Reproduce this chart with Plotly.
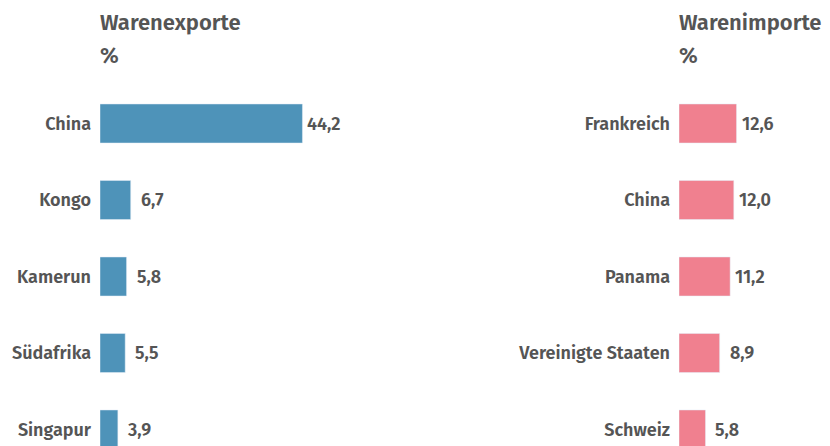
import plotly.graph_objects as go

export_countries = ["China", "Kongo", "Kamerun", "Südafrika", "Singapur"]
export_values = [44.2, 6.7, 5.8, 5.5, 3.9]
import_countries = ["Frankreich", "China", "Panama", "Vereinigte Staaten", "Schweiz"]
import_values = [12.6, 12.0, 11.2, 8.9, 5.8]
export_title = "Warenexporte"
import_title = "Warenimporte"
unit_label = "%"

W, H = 830, 446
OFF = 8  # page body margin
BLUE = "#4e93b9"
PINK = "#f0808f"
TXT = "#555555"
FONT = "Fira Sans, Open Sans, sans-serif"

def fmt(v):
    return f"{v:.1f}".replace(".", ",")

pos = list(range(5))

fig = go.Figure()
fig.add_trace(go.Bar(x=export_values, y=pos, orientation="h", marker_color=BLUE,
                     width=0.51, xaxis="x", yaxis="y", hoverinfo="skip"))
fig.add_trace(go.Bar(x=import_values, y=pos, orientation="h", marker_color=PINK,
                     width=0.51, xaxis="x2", yaxis="y2", hoverinfo="skip"))

top = 85 - OFF
c0 = 123.5 - OFF
step = 76.5
yrange = [(H - c0) / step, -(c0 - top) / step]
common_y = dict(range=yrange, tickmode="array", tickvals=pos, showgrid=False,
                zeroline=False, showline=False, ticks="", ticklabelstandoff=8,
                tickfont=dict(family=FONT, size=18, color=TXT, weight=600))
common_x = dict(showgrid=False, zeroline=False, showline=False, showticklabels=False, ticks="")

lx = 100 - OFF
rx = 679 - OFF
fig.update_layout(
    width=W, height=H,
    margin=dict(l=0, r=0, t=top, b=0),
    paper_bgcolor="white", plot_bgcolor="white",
    showlegend=False,
    xaxis=dict(domain=[lx / W, (lx + 229) / W], range=[0, 50], **common_x),
    xaxis2=dict(domain=[rx / W, (rx + 137) / W], range=[0, 30], **common_x),
    yaxis=dict(anchor="x", ticktext=export_countries, **common_y),
    yaxis2=dict(anchor="x2", ticktext=import_countries, **common_y),
)

ann = []
for xr, yr, vals in (("x", "y", export_values), ("x2", "y2", import_values)):
    for i, v in enumerate(vals):
        ann.append(dict(x=v, y=i, xref=xr, yref=yr, text=fmt(v), showarrow=False,
                        xanchor="left", yanchor="middle", xshift=3 if v >= 10 else 8,
                        font=dict(family=FONT, size=18, color=TXT, weight=600)))

ph = H - top
def py(yv):
    return 1 + (top - (yv - OFF)) / ph

for xp, t in ((lx / W, export_title), (rx / W, import_title)):
    ann.append(dict(x=xp, y=py(22), xref="paper", yref="paper", text=t, showarrow=False,
                    xanchor="left", yanchor="middle", xshift=-2,
                    font=dict(family=FONT, size=22, color=TXT, weight=600)))
    ann.append(dict(x=xp, y=py(55), xref="paper", yref="paper", text=unit_label, showarrow=False,
                    xanchor="left", yanchor="middle", xshift=-2,
                    font=dict(family=FONT, size=22, color=TXT, weight=600)))

fig.update_layout(annotations=ann)
fig.write_html("out.html")
